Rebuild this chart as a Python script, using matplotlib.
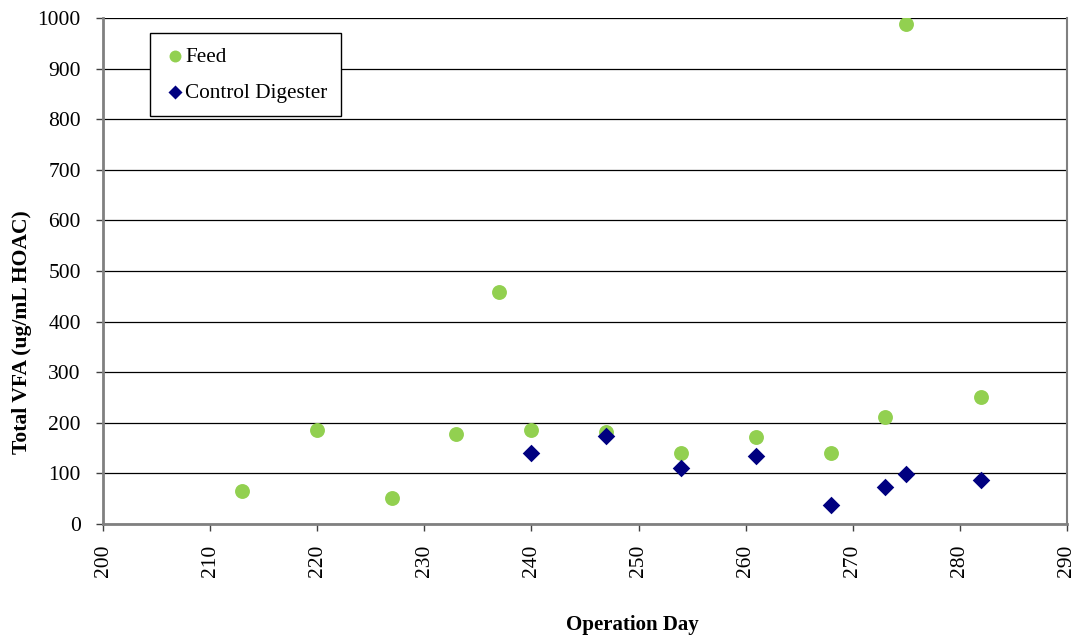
import matplotlib
matplotlib.use("Agg")
import matplotlib.pyplot as plt

plt.rcParams['font.family'] = ['Liberation Serif', 'DejaVu Serif']

feed_days = [213, 220, 227, 233, 237, 240, 247, 254, 261, 268, 273, 275, 282]
feed_vfa = [65, 186, 51, 178, 458, 186, 182, 140, 172, 140, 212, 988, 251]

control_days = [240, 247, 254, 261, 268, 273, 275, 282]
control_vfa = [141, 174, 111, 135, 38, 74, 99, 87]

x_ticks = list(range(200, 291, 10))
y_ticks = list(range(0, 1001, 100))

fig = plt.figure(figsize=(10.81, 6.42), dpi=100)
ax = fig.add_axes([0.0953, 0.1838, 0.8917, 0.7882])

ax.set_xlim(200, 290)
ax.set_ylim(0, 1000)
ax.set_xticks(x_ticks)
ax.set_yticks(y_ticks)
ax.set_xticklabels([str(t) for t in x_ticks], rotation=90, fontsize=15.5)
ax.set_yticklabels([str(t) for t in y_ticks], fontsize=15.5)

ax.yaxis.grid(True, color='black', linewidth=0.9)
ax.set_axisbelow(True)

for side in ['left', 'bottom', 'right', 'top']:
    ax.spines[side].set_color('#808080')
ax.spines['left'].set_linewidth(2.0)
ax.spines['bottom'].set_linewidth(2.0)
ax.spines['right'].set_linewidth(1.5)
ax.spines['top'].set_visible(False)
ax.tick_params(axis='y', direction='out', length=5, width=1.0, color='#404040', pad=11)
ax.tick_params(axis='x', direction='out', length=5, width=1.0, color='#404040', pad=10)

ax.scatter(feed_days, feed_vfa, s=115, marker='o', color='#92D050', label='Feed', zorder=3, linewidths=0)
ax.scatter(control_days, control_vfa, s=80, marker='D', color='#000080', label='Control Digester', zorder=4, linewidths=0)

ax.set_xlabel('Operation Day', fontsize=15, fontweight='bold')
ax.xaxis.set_label_coords(0.549, -0.18)
ax.set_ylabel('Total VFA (ug/mL HOAC)', fontsize=15.6, fontweight='bold')
ax.yaxis.set_label_coords(-0.074, 0.379)

leg = ax.legend(loc='upper left', bbox_to_anchor=(0.049, 0.970), fontsize=15.3, frameon=True,
                fancybox=False, edgecolor='black', framealpha=1, handletextpad=0.0,
                borderpad=0.65, labelspacing=0.75, markerscale=0.8, handlelength=1.0,
                borderaxespad=0)
leg.get_frame().set_linewidth(1.0)

fig.savefig('out.png', dpi=100)
